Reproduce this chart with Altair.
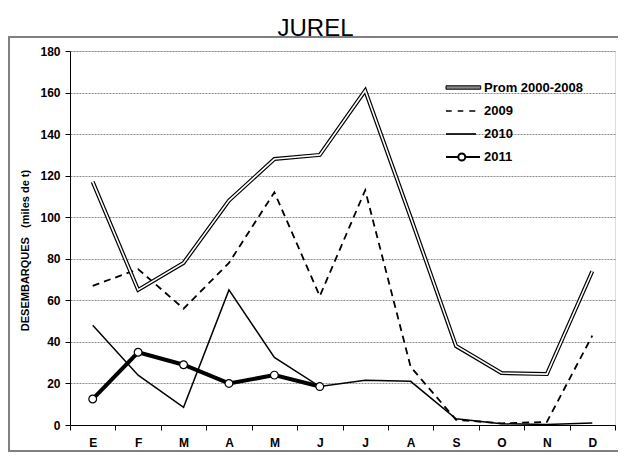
import json
import altair as alt
import pandas as pd

# ---- data ----
meses = ["E", "F", "M", "A", "M", "J", "J", "A", "S", "O", "N", "D"]
series = ["Prom 2000-2008", "2009", "2010", "2011"]
prom = [117, 65, 78, 108, 128, 130, 161, 100, 38, 25, 24.5, 74]
v2009 = [67, 75, 56, 78, 112, 62, 113, 28, 2.5, 0.8, 1.5, 43]
v2010 = [48, 24, 8.5, 65, 32.5, 18.5, 21.5, 21, 3, 0.6, 0.2, 1]
v2011 = [12.5, 35, 29, 20, 24, 18.5]

rows = []
for name, vals in zip(series, [prom, v2009, v2010, v2011]):
    for i, v in enumerate(vals):
        rows.append({"mes": i + 1, "serie": name, "valor": v})
df = pd.DataFrame(rows)

# legend-only rows (no position -> filtered out of the plot)
leg_df = pd.DataFrame({"serie": series, "mes": [None] * 4, "valor": [None] * 4})

FONT = "Liberation Sans, Arial, sans-serif"
label_expr = json.dumps(meses) + "[datum.value - 1]"

x_enc = alt.X(
    "mes:O",
    scale=alt.Scale(type="band", domain=list(range(1, 13)), paddingInner=0, paddingOuter=0),
    axis=alt.Axis(
        labelExpr=label_expr, labelAngle=0, labelFont=FONT, labelFontSize=12,
        labelFontWeight="bold", labelColor="black", labelPadding=7,
        tickBand="extent", tickSize=5, tickColor="black", domainColor="black",
        grid=False, title=None,
    ),
)
y_enc = alt.Y(
    "valor:Q",
    scale=alt.Scale(domain=[0, 180], nice=False, zero=True),
    axis=alt.Axis(
        values=list(range(0, 181, 20)), labelFont=FONT, labelFontSize=12,
        labelFontWeight="bold", labelColor="black", labelPadding=5,
        tickSize=5, tickColor="black", domainColor="black",
        gridColor="#8c8c8c", gridDash=[2, 1], gridWidth=1,
        title="DESEMBARQUES\u00a0\u00a0\u00a0(miles de t)", titleFont=FONT,
        titleFontSize=11, titleFontWeight="bold", titleColor="black",
        titleAngle=270, titleAlign="center", titleBaseline="middle",
        titleX=-45, titleY=199,
    ),
)

base = alt.Chart(df).encode(x=x_enc, y=y_enc)

frame = alt.Chart(alt.Data(values=[{}])).mark_rect(
    fillOpacity=0, stroke="#808080", strokeWidth=2
).encode(x=alt.value(-61), x2=alt.value(700), y=alt.value(-14), y2=alt.value(400))

l2009 = base.transform_filter(alt.datum.serie == "2009").mark_line(
    color="black", strokeWidth=1.8, strokeDash=[7, 5], strokeJoin="miter"
)
l2010 = base.transform_filter(alt.datum.serie == "2010").mark_line(
    color="black", strokeWidth=1.5, strokeJoin="miter"
)
lprom_o = base.transform_filter(alt.datum.serie == "Prom 2000-2008").mark_line(
    color="black", strokeWidth=4, strokeJoin="miter"
)
lprom_i = base.transform_filter(alt.datum.serie == "Prom 2000-2008").mark_line(
    color="white", strokeWidth=1.6, strokeJoin="miter"
)
l2011 = base.transform_filter(alt.datum.serie == "2011").mark_line(
    color="black", strokeWidth=4, strokeJoin="miter"
)
p2011 = base.transform_filter(alt.datum.serie == "2011").mark_point(
    filled=True, fill="white", stroke="black", strokeWidth=1.2, size=60, opacity=1
)

sym_paths = [
    "M-1.75,-0.17H1.72V0.17H-1.75Z",
    "M-1.75,0H-1.18M-0.58,0H-0.02M0.58,0H1.18",
    "M-1.75,0H1.25",
    "M-1.75,0H-0.52M0.18,0H1.65M-0.52,0A0.35,0.35 0 1,1 0.18,0A0.35,0.35 0 1,1 -0.52,0",
]
sym_fill = ["#8a8a8a", "transparent", "transparent", "white"]
sym_stroke = ["black", "black", "black", "black"]
sym_width = [1, 2, 2, 2.2]

leg = alt.Legend(
    title=None, orient="none", legendX=382.5, legendY=26,
    labelFont=FONT, labelFontSize=13, labelFontWeight="bold", labelColor="black",
    labelOffset=9.5, rowPadding=5, symbolSize=400, symbolStrokeColor="black",
)
legend_layer = alt.Chart(leg_df).mark_point(stroke="black", opacity=1, size=400).encode(
    x=x_enc,
    y=y_enc,
    shape=alt.Shape("serie:N", scale=alt.Scale(domain=series, range=sym_paths), legend=leg),
    fill=alt.Fill("serie:N", scale=alt.Scale(domain=series, range=sym_fill), legend=leg),
    stroke=alt.Stroke("serie:N", scale=alt.Scale(domain=series, range=sym_stroke), legend=leg),
    strokeWidth=alt.StrokeWidth("serie:N", scale=alt.Scale(domain=series, range=sym_width), legend=leg),
)

chart = alt.layer(
    frame, l2009, l2010, lprom_o, lprom_i, l2011, p2011, legend_layer
).properties(
    width=545, height=374,
    padding={"left": 62, "top": 43, "right": 3, "bottom": 28},
    autosize=alt.AutoSizeParams(type="none"),
    title=alt.TitleParams(
        text="JUREL", font="Liberation Sans, Arial, sans-serif",
        fontSize=24, fontWeight="normal", color="black", anchor="middle",
        dx=-27, dy=28, offset=4, baseline="alphabetic",
    ),
).configure_view(stroke="black", strokeWidth=1).configure(background="white")

chart.save("out.html", embed_options={"renderer": "svg", "actions": False})
